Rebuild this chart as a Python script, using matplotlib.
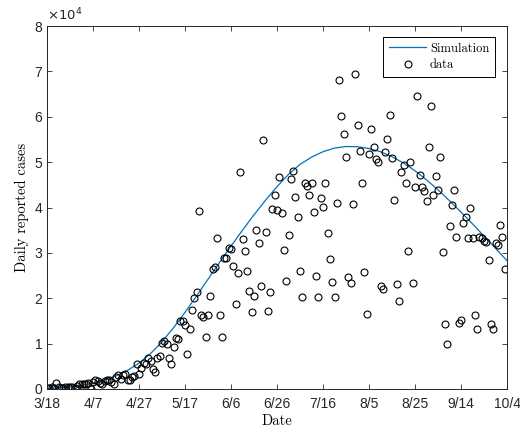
import matplotlib
matplotlib.use("Agg")
import matplotlib.pyplot as plt

# daily reported cases, one value per day starting 3/18 (day 0)
cases = [
    300, 200, 400, 300, 1300, 400, 300, 300, 500, 400,
    400, 500, 300, 600, 1100, 1000, 1200, 1100, 1300, 100,
    1600, 2000, 1800, 1300, 1100, 1800, 1900, 2000, 1500, 1200,
    2700, 3000, 2100, 3000, 3300, 2000, 1900, 2600, 2900, 5500,
    3300, 4700, 5800, 5500, 6900, 6200, 4400, 3800, 6800, 7200,
    10200, 10600, 10000, 6900, 5600, 9200, 11300, 11100, 14900, 15000,
    14100, 7800, 13200, 17400, 20000, 21300, 39200, 16400, 15900, 11500,
    16200, 20600, 26400, 26800, 33300, 16400, 11500, 28800, 28900, 31000,
    30800, 27000, 18800, 25500, 47900, 33000, 30400, 25900, 21700, 16900,
    20600, 35000, 32200, 22800, 54800, 34600, 17300, 21300, 39700, 42800,
    39500, 46800, 38800, 30600, 23900, 33900, 46300, 48100, 42300, 37900,
    25900, 20200, 45500, 44800, 42800, 45300, 39000, 24800, 20200, 42100,
    40100, 45500, 34400, 28600, 23500, 20200, 41000, 68100, 60100, 56100,
    51200, 24600, 23300, 40800, 69400, 58100, 52500, 45500, 25700, 16600,
    51700, 57400, 53400, 50600, 50100, 22800, 22000, 52300, 55200, 60300,
    51000, 41700, 23100, 19300, 47900, 49400, 45500, 30400, 50100, 23300,
    44600, 64500, 47200, 44600, 43700, 41500, 53400, 62300, 42800, 47000,
    43900, 51200, 30200, 14400, 10000, 35900, 40600, 43900, 33500, 14600,
    15100, 36600, 37900, 33300, 39900, 33300, 16200, 13300, 33500, 33300,
    32700, 32400, 28400, 14400, 13300, 32200, 31800, 36100, 33500, 26400,
]
days = list(range(len(cases)))

# simulation curve read every 5 days
sim_days = list(range(0, 205, 5))
sim_vals = [
    100, 250, 450, 800, 1300, 2000, 2900, 4100, 5700, 7800,
    10400, 13500, 16900, 20500, 24200, 27900, 31500, 35000, 38400, 41600,
    44600, 47300, 49500, 51100, 52300, 53100, 53450, 53400, 53000, 52300,
    51200, 49800, 48100, 46100, 43900, 41500, 39000, 36400, 33700, 31000,
    28300,
]

tick_days = list(range(0, 201, 20))
tick_labels = ["3/18", "4/7", "4/27", "5/17", "6/6", "6/26", "7/16",
               "8/5", "8/25", "9/14", "10/4"]

plt.rcParams["font.family"] = ["Liberation Sans", "DejaVu Sans"]
serif = "cmr10"

fig = plt.figure(figsize=(5.2, 4.34), dpi=100)
ax = fig.add_axes([0.0904, 0.1037, 0.8846, 0.8363])

ax.plot(sim_days, sim_vals, color="#0072BD", lw=0.9, label="Simulation")
ax.plot(days, cases, "o", ms=5, mfc="none", mec="black", mew=0.8, label="data")

ax.set_xlim(0, 200)
ax.set_ylim(0, 80000)
ax.set_xticks(tick_days)
ax.set_xticklabels(tick_labels)
ax.set_yticks(range(0, 80001, 10000))
ax.set_yticklabels([str(v // 10000) for v in range(0, 80001, 10000)])
ax.tick_params(direction="in", top=True, right=True, length=3.5, width=0.6,
               labelsize=10, colors="#262626", labelcolor="#262626")
ax.tick_params(axis="x", pad=6)
for s in ax.spines.values():
    s.set_color("#262626")
    s.set_linewidth(0.7)
ax.text(0.0, 1.008, r"$\times10^4$", transform=ax.transAxes, fontsize=9.5,
        color="#262626", va="bottom", ha="left")

ax.set_xlabel("Date", fontfamily=serif, fontsize=10.5, labelpad=2)
ax.set_ylabel("Daily reported cases", fontfamily=serif, fontsize=10.5, labelpad=4)

leg = ax.legend(loc="upper right", bbox_to_anchor=(0.974, 0.970), borderaxespad=0,
                fancybox=False, edgecolor="black", framealpha=1, handlelength=3.0,
                prop={"family": serif, "size": 9}, borderpad=0.45,
                labelspacing=0.35, handletextpad=0.3)
leg.get_frame().set_linewidth(0.7)

fig.savefig("out.png", dpi=100)
print("wrote out.png")
